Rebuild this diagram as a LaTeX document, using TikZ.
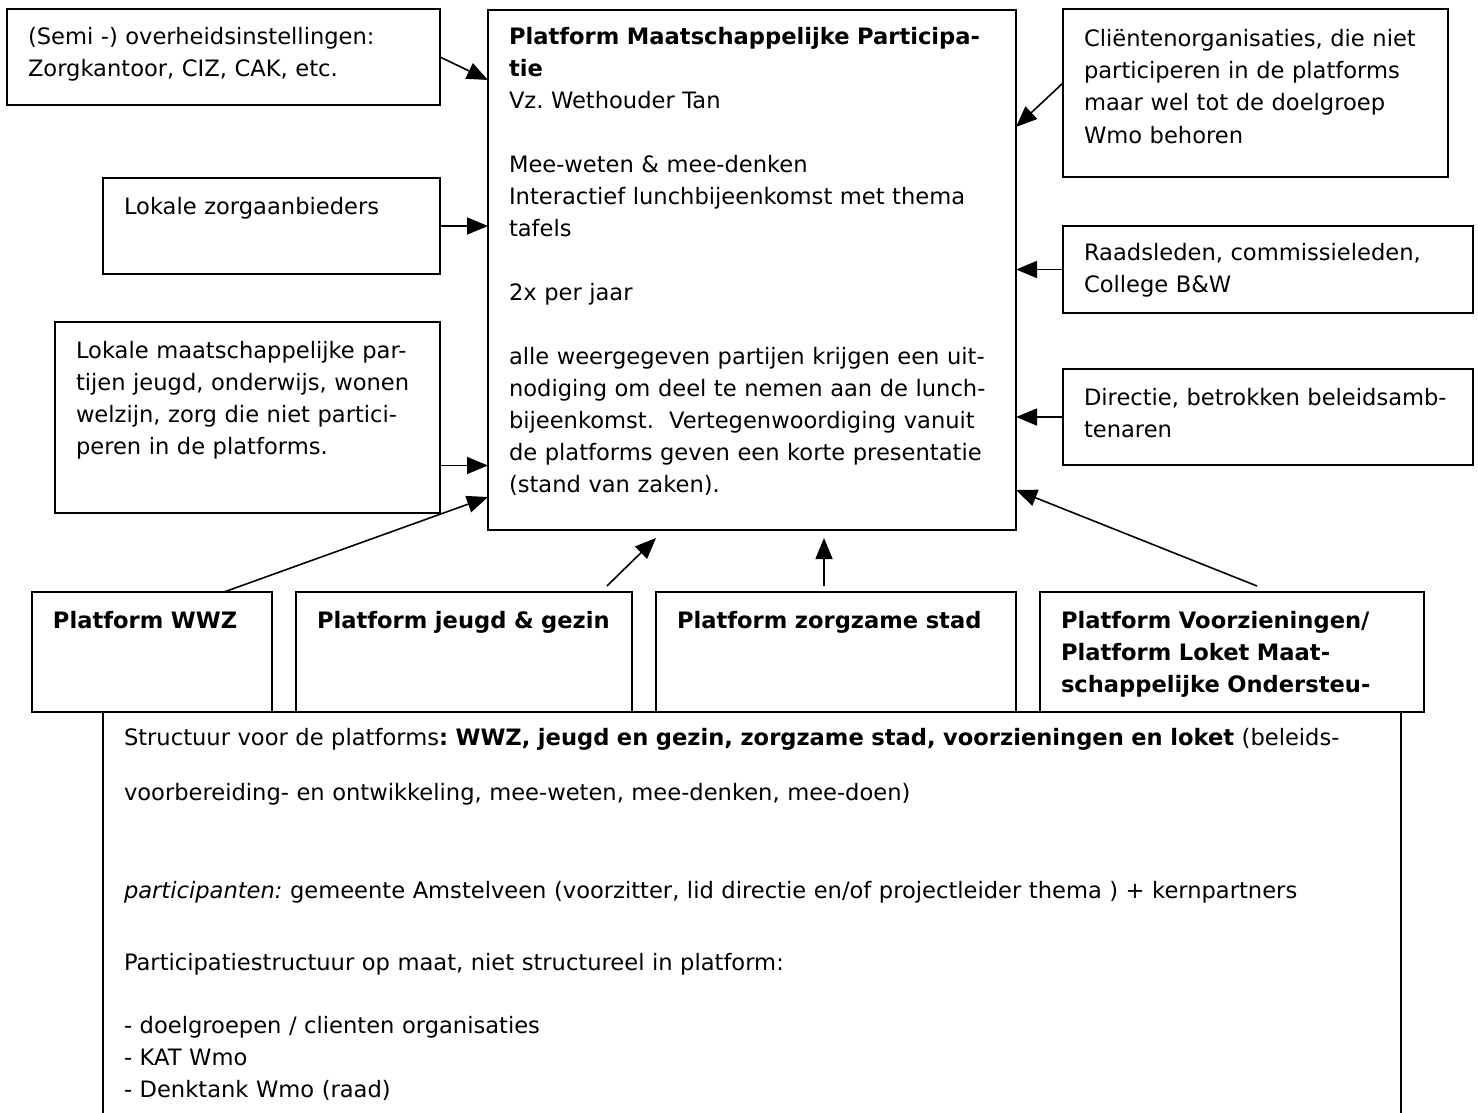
\documentclass[tikz,border=0pt]{standalone}
\usepackage{fontspec}
\setmainfont{DejaVu Sans}
\usetikzlibrary{arrows.meta, calc, positioning}
\frenchspacing

\begin{document}
\begin{tikzpicture}[
  x=0.5pt, y=-0.5pt,
  box/.style   = {draw, line width=0.9pt, anchor=north west, align=left,
                  outer sep=0pt, inner xsep=10.5pt, inner ysep=0pt,
                  text height=18pt, font=\fontsize{11.3}{16}\selectfont},
  platf/.style = {box, font=\fontsize{11.3}{16}\selectfont\bfseries},
  arr/.style   = {-{Triangle[length=10.5pt, width=8.5pt]}, line width=0.8pt}
]
\useasboundingbox (0,0) rectangle (1478,1113);
\clip (0,0) rectangle (1478,1113);

\node[box, text width=195.5pt, text depth=30pt] (overheid) at (7,9)
  {(Semi -) overheidsinstellingen:\\Zorgkantoor, CIZ, CAK, etc.};
\node[box, text width=147.5pt, text depth=30pt] (zorgaanb) at (103,178)
  {Lokale zorgaanbieders};
\node[box, text width=171.5pt, text depth=77.5pt] (lokaal) at (55,322)
  {Lokale maatschappelijke par-\\tijen jeugd, onderwijs, wonen\\welzijn, zorg die niet partici-\\peren in de platforms.};

\node[box, text width=243pt, text height=17.5pt, text depth=242.5pt] (platform) at (488,10)
  {\textbf{Platform Maatschappelijke Participa-}\\
   \textbf{tie}\\
   Vz. Wethouder Tan\\[16pt]
   Mee-weten \& mee-denken\\
   Interactief lunchbijeenkomst met thema\\
   tafels\\[16pt]
   2x per jaar\\[16pt]
   alle weergegeven partijen krijgen een uit-\\
   nodiging om deel te nemen aan de lunch-\\
   bijeenkomst.\ \ Vertegenwoordiging vanuit\\
   de platforms geven een korte presentatie\\
   (stand van zaken).};

\node[box, text width=171.5pt, text height=19pt, text depth=65pt] (clienten) at (1063,9)
  {Cliëntenorganisaties, die niet\\participeren in de platforms\\maar wel tot de doelgroep\\Wmo behoren};
\node[box, text width=184pt, text height=17pt, text depth=26.5pt] (raad) at (1063,226)
  {Raadsleden, commissieleden,\\College B\&W};
\node[box, text width=184pt, text depth=30pt] (directie) at (1063,369)
  {Directie, betrokken beleidsamb-\\tenaren};

\node[platf, text width=99pt, text depth=42pt] (wwz) at (32,592) {Platform WWZ};
\node[platf, text width=147pt, text depth=42pt] (jeugd) at (296,592) {Platform jeugd \& gezin};
\node[platf, text width=159pt, text depth=42pt] (zorgzaam) at (656,592) {Platform zorgzame stad};
\node[platf, text width=171pt, text depth=42pt] (voorz) at (1040,592)
  {Platform Voorzieningen/\\Platform Loket Maat-\\schappelijke Ondersteu-};

\node[box, text width=628pt, text height=16.5pt, text depth=200pt] (structuur) at (103,712)
  {Structuur voor de platforms\textbf{: WWZ, jeugd en gezin, zorgzame stad, voorzieningen en loket} (beleids-\\[11.5pt]
   voorbereiding- en ontwikkeling, mee-weten, mee-denken, mee-doen)\\[33pt]
   \textit{participanten:} gemeente Amstelveen (voorzitter, lid directie en/of projectleider thema ) + kernpartners\\[20pt]
   Participatiestructuur op maat, niet structureel in platform:\\[15.5pt]
   - doelgroepen / clienten organisaties\\
   - KAT Wmo\\
   - Denktank Wmo (raad)};

\coordinate (lokaal-uit)  at ($(lokaal.east)+(0,-24pt)$);
\coordinate (wwz-uit)     at ($(wwz.north)+(36pt,0)$);
\coordinate (wwz-in)      at ($(platform.north west)+(0,-243.5pt)$);
\coordinate (jeugd-uit)   at ($(jeugd.north)+(71.5pt,3pt)$);
\coordinate (jeugd-in)    at ($(platform.south west)+(84pt,-4pt)$);
\coordinate (zorg-uit)    at ($(zorgzaam.north)+(-6pt,3pt)$);
\coordinate (zorg-in)     at ($(zorgzaam.north)+(-6pt,27pt)$);
\coordinate (voorz-uit)   at ($(voorz.north)+(12.5pt,3pt)$);
\coordinate (voorz-in)    at ($(platform.north east)+(0,-240pt)$);
\coordinate (clienten-uit) at ($(clienten.west)+(0,5pt)$);
\coordinate (clienten-in) at ($(platform.north east)+(0,-58.5pt)$);

\draw[arr] (overheid.east) -- ([yshift=-35pt]platform.north west);
\draw[arr] (zorgaanb.east) -- (zorgaanb.east -| platform.west);
\draw[arr] (lokaal-uit)    -- (lokaal-uit -| platform.west);
\draw[arr] (wwz-uit)       -- (wwz-in);
\draw[arr] (jeugd-uit)     -- (jeugd-in);
\draw[arr] (zorg-uit)      -- (zorg-in);
\draw[arr] (voorz-uit)     -- (voorz-in);
\draw[arr] (clienten-uit)  -- (clienten-in);
\draw[arr] (raad.west)     -- (raad.west -| platform.east);
\draw[arr] (directie.west) -- (directie.west -| platform.east);
\end{tikzpicture}
\end{document}
